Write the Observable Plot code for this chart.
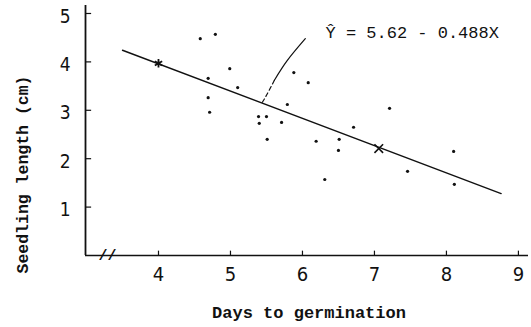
<!DOCTYPE html>
<html>
<head>
<meta charset="utf-8">
<script src="https://cdn.jsdelivr.net/npm/d3@7"></script>
<script src="https://cdn.jsdelivr.net/npm/@observablehq/plot@0.6"></script>
<style>
  html, body { margin: 0; padding: 0; background: #fff; }
  #chart svg { display: block; }
</style>
</head>
<body>
<div id="chart"></div>
<script>
// Observed data (days to germination, seedling length cm)
const days = [4.58, 4.79, 4.99, 4.69, 5.10, 4.69, 4.71, 5.39, 5.50, 5.40, 5.71, 5.79,
              5.88, 6.08, 5.51, 6.19, 6.51, 6.50, 6.31, 6.71, 7.21, 7.46, 8.10, 8.11];
const lengths = [4.48, 4.57, 3.86, 3.66, 3.47, 3.26, 2.96, 2.87, 2.87, 2.73, 2.75, 3.12,
                 3.78, 3.57, 2.40, 2.36, 2.40, 2.17, 1.57, 2.65, 3.04, 1.74, 2.15, 1.47];

// Regression line as drawn
const regX = [3.50, 8.76];
const regY = [4.24, 1.28];

// Marked points on the line
const starX = [4.00];
const starY = [3.97];
const crossX = [7.06];
const crossY = [2.21];

// Leader curve from equation to line
const leaderSolidX = [6.04, 5.79, 5.61];
const leaderSolidY = [4.48, 4.03, 3.62];
const leaderDashX = [5.61, 5.50, 5.44];
const leaderDashY = [3.62, 3.31, 3.16];

// Equation label
const eqText = ["Ŷ = 5.62 - 0.488X"];
const eqX = [6.32];
const eqY = [4.61];

// Axes
const xTicks = [4, 5, 6, 7, 8, 9];
const yTicks = [1, 2, 3, 4, 5];
const xDomain = [2.986, 9.14];
const yDomain = [0, 5.165];
const breakX = [3.29];
const breakY = [0];
const xTitle = "Days to germination";
const yTitle = "Seedling length (cm)";

const pts = days.map((d, i) => ({x: d, y: lengths[i]}));
const reg = regX.map((d, i) => ({x: d, y: regY[i]}));
const ls = leaderSolidX.map((d, i) => ({x: d, y: leaderSolidY[i]}));
const ld = leaderDashX.map((d, i) => ({x: d, y: leaderDashY[i]}));

const ink = "#111";
const mono = "'Liberation Mono', 'DejaVu Sans Mono', monospace";
const tickFont = "'DejaVu Sans Condensed', 'Liberation Sans', sans-serif";

const chart = Plot.plot({
  width: 531,
  height: 327,
  marginLeft: 85,
  marginRight: 3,
  marginTop: 5,
  marginBottom: 72,
  style: {background: "#fff", color: ink},
  x: {domain: xDomain},
  y: {domain: yDomain},
  marks: [
    // axis lines
    Plot.ruleY([0], {stroke: ink, strokeWidth: 1.6}),
    Plot.ruleX([xDomain[0]], {stroke: ink, strokeWidth: 1.8}),
    // inward ticks
    Plot.ruleX(xTicks, {x: d => d, y1: 0, y2: 0.09, stroke: ink, strokeWidth: 1.2}),
    Plot.ruleY(yTicks, {y: d => d, x1: xDomain[0], x2: xDomain[0] + 0.085, stroke: ink, strokeWidth: 1.2}),
    // tick labels
    Plot.axisX(xTicks, {tickSize: 0, tickPadding: 11, fontSize: 20, fontFamily: tickFont, fontWeight: 300, label: null}),
    Plot.axisY(yTicks, {tickSize: 0, tickPadding: 15, fontSize: 19, fontFamily: tickFont, fontWeight: 300, dy: 3, label: null}),
    // axis break
    Plot.text(breakX, {x: d => d, y: breakY, text: () => "//", fontSize: 15, fontWeight: "bold", fontFamily: mono, fill: ink}),
    // regression line
    Plot.line(reg, {x: "x", y: "y", stroke: ink, strokeWidth: 1.4}),
    // leader
    Plot.line(ls, {x: "x", y: "y", stroke: ink, strokeWidth: 1.2, curve: "natural"}),
    Plot.line(ld, {x: "x", y: "y", stroke: ink, strokeWidth: 1.2, curve: "natural", strokeDasharray: "4,3"}),
    // data points
    Plot.dot(pts, {x: "x", y: "y", r: 1.6, fill: ink, stroke: "none"}),
    // markers on line
    Plot.dot(starX, {x: d => d, y: starY, symbol: "asterisk", r: 4, stroke: ink, strokeWidth: 1.8}),
    Plot.dot(crossX, {x: d => d, y: crossY, symbol: "times", r: 4, stroke: ink, strokeWidth: 1.6}),
    // equation
    Plot.text(eqText, {x: eqX, y: eqY, text: d => d, textAnchor: "start", fontSize: 17, fontFamily: mono, fill: ink}),
    // axis titles
    Plot.text([xTitle], {frameAnchor: "bottom", dx: 2, dy: 62, text: d => d, fontSize: 17, fontWeight: "bold", fontFamily: mono, fill: ink, letterSpacing: "1.5px"}),
    Plot.text([yTitle], {frameAnchor: "left", textAnchor: "middle", dx: -63, dy: 44, rotate: -90, text: d => d, fontSize: 16.5, fontWeight: "bold", fontFamily: mono, fill: ink})
  ]
});
document.getElementById("chart").appendChild(chart);
</script>
</body>
</html>
